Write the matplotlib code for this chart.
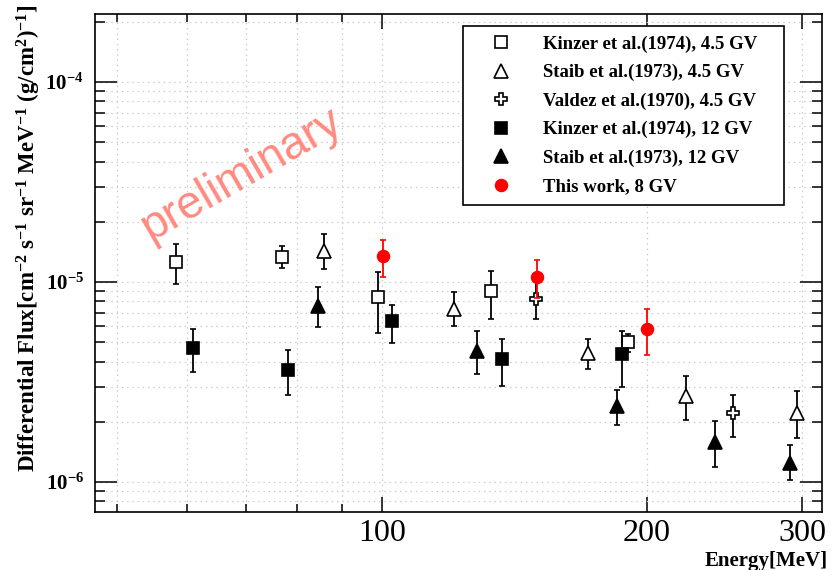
import math
import matplotlib
matplotlib.use("Agg")
import matplotlib.pyplot as plt
from matplotlib.ticker import FixedLocator, NullFormatter, FixedFormatter, LogLocator, FuncFormatter

plt.rcParams['font.family'] = ['Liberation Serif', 'DejaVu Serif']
plt.rcParams['mathtext.fontset'] = 'custom'
plt.rcParams['mathtext.rm'] = 'Liberation Serif:bold'
plt.rcParams['mathtext.bf'] = 'Liberation Serif:bold'
plt.rcParams['mathtext.it'] = 'Liberation Serif:bold'
plt.rcParams['mathtext.default'] = 'bf'

# ---------------- data ----------------
kinzer45_E = [58.3, 77.0, 98.9, 133.0, 190.5]
kinzer45_F = [1.26e-5, 1.34e-5, 8.41e-6, 8.98e-6, 4.99e-6]
kinzer45_hi = [1.55e-5, 1.51e-5, 1.12e-5, 1.14e-5, 5.52e-6]
kinzer45_lo = [9.77e-6, 1.17e-5, 5.54e-6, 6.53e-6, 4.45e-6]

staib45_E = [85.9, 120.7, 171.4, 221.4, 295.7]
staib45_F = [1.43e-5, 7.36e-6, 4.40e-6, 2.69e-6, 2.22e-6]
staib45_hi = [1.73e-5, 8.88e-6, 5.21e-6, 3.39e-6, 2.84e-6]
staib45_lo = [1.16e-5, 6.00e-6, 3.69e-6, 2.03e-6, 1.65e-6]

valdez45_E = [149.7, 250.3]
valdez45_F = [8.25e-6, 2.21e-6]
valdez45_hi = [1.02e-5, 2.72e-6]
valdez45_lo = [6.53e-6, 1.67e-6]

kinzer12_E = [61.0, 78.1, 102.5, 136.9, 187.4]
kinzer12_F = [4.70e-6, 3.64e-6, 6.36e-6, 4.11e-6, 4.35e-6]
kinzer12_hi = [5.82e-6, 4.59e-6, 7.70e-6, 5.21e-6, 5.71e-6]
kinzer12_lo = [3.55e-6, 2.72e-6, 4.95e-6, 3.02e-6, 2.97e-6]

staib12_E = [84.6, 128.3, 185.1, 238.9, 291.0]
staib12_F = [7.62e-6, 4.54e-6, 2.40e-6, 1.58e-6, 1.25e-6]
staib12_hi = [9.44e-6, 5.71e-6, 2.89e-6, 2.02e-6, 1.53e-6]
staib12_lo = [5.98e-6, 3.47e-6, 1.92e-6, 1.19e-6, 1.02e-6]

thiswork_E = [100.2, 150.1, 200.0]
thiswork_F = [1.35e-5, 1.055e-5, 5.82e-6]
thiswork_hi = [1.62e-5, 1.29e-5, 7.30e-6]
thiswork_lo = [1.06e-5, 8.30e-6, 4.32e-6]

labels = ["Kinzer et al.(1974), 4.5 GV", "Staib et al.(1973), 4.5 GV",
          "Valdez et al.(1970), 4.5 GV", "Kinzer et al.(1974), 12 GV",
          "Staib et al.(1973), 12 GV", "This work, 8 GV"]

x_major = [100, 200, 300]
x_major_labels = ["100", "200", "300"]
x_minor = [50, 60, 70, 80, 90]

# ---------------- figure ----------------
fig = plt.figure(figsize=(8.32, 5.70), dpi=100)
ax = fig.add_axes([95/832, 1-511.7/570, 727/832, (511.7-14)/570])
ax.set_xscale('log')
ax.set_yscale('log')

series = [
    (kinzer45_E, kinzer45_F, kinzer45_hi, kinzer45_lo, 's', 'white', 'black'),
    (staib45_E, staib45_F, staib45_hi, staib45_lo, '^', 'white', 'black'),
    (valdez45_E, valdez45_F, valdez45_hi, valdez45_lo, 'P', 'white', 'black'),
    (kinzer12_E, kinzer12_F, kinzer12_hi, kinzer12_lo, 's', 'black', 'black'),
    (staib12_E, staib12_F, staib12_hi, staib12_lo, '^', 'black', 'black'),
    (thiswork_E, thiswork_F, thiswork_hi, thiswork_lo, 'o', 'red', 'red'),
]
handles = []
for i, (E, F, hi, lo, m, fc, ec) in enumerate(series):
    yerr = [[f - l for f, l in zip(F, lo)], [h - f for f, h in zip(F, hi)]]
    ms = 9.5 if m == '^' else 8.5
    eb = ax.errorbar(E, F, yerr=yerr, fmt=m, ms=ms, mfc=fc, mec=ec, mew=1.2,
                     ecolor=ec, elinewidth=1.3, capsize=2.5, capthick=1.3,
                     zorder=3 + i)
    handles.append(eb[0])

ax.set_xlim(47.2, 316)
ax.set_ylim(7.1e-7, 2.19e-4)

ax.xaxis.set_major_locator(FixedLocator(x_major))
ax.xaxis.set_major_formatter(FixedFormatter(x_major_labels))
ax.xaxis.set_minor_locator(FixedLocator(x_minor))
ax.xaxis.set_minor_formatter(NullFormatter())

ax.yaxis.set_major_locator(LogLocator(base=10, numticks=10))
ax.yaxis.set_minor_locator(LogLocator(base=10, subs=[2, 3, 4, 5, 6, 7, 8, 9], numticks=20))
ax.yaxis.set_minor_formatter(NullFormatter())
ax.yaxis.set_major_formatter(FuncFormatter(
    lambda v, p: r'$\mathbf{10^{%d}}$' % round(math.log10(v))))

ax.tick_params(axis='both', which='both', direction='in', top=True, right=True,
               color='black', width=1.1)
ax.tick_params(axis='x', which='major', length=11, labelsize=23, pad=5)
ax.tick_params(axis='x', which='minor', length=5.5)
ax.tick_params(axis='y', which='major', length=16, labelsize=15, pad=8)
ax.tick_params(axis='y', which='minor', length=7)
for sp in ax.spines.values():
    sp.set_linewidth(1.2)

ax.grid(True, which='both', axis='both', color='#cccccc', linestyle=(0, (1.2, 3)),
        linewidth=0.9, zorder=0)
ax.set_axisbelow(True)

ax.set_ylabel(r'Differential Flux[cm$^{-2}$ s$^{-1}$ sr$^{-1}$ MeV$^{-1}$ (g/cm$^{2}$)$^{-1}$]',
              fontsize=16.5, fontweight='bold', loc='top')
ax.yaxis.label.set_va('center')
ax.yaxis.set_label_coords((29 - 95) / 727, (511.7 - 4) / 497.7)

ax.set_xlabel('Energy[MeV]', fontsize=15, fontweight='bold', loc='right')
ax.xaxis.label.set_va('center')
ax.xaxis.set_label_coords((828 - 95) / 727, (511.7 - 561) / 497.7)

fig.text(241/832, 1-175/570, 'preliminary', fontsize=33, color='#ff8a80',
         family=['Liberation Sans', 'DejaVu Sans'], rotation=30,
         ha='center', va='center', rotation_mode='anchor')

leg_x0 = (463 - 95) / 727
leg_y0 = (511.7 - 200) / 497.7
leg_w = (784 - 463) / 727
leg_h = (200 - 26) / 497.7
leg = ax.legend(handles, labels, loc='upper left',
                bbox_to_anchor=(leg_x0, leg_y0, leg_w, leg_h),
                mode='expand', borderaxespad=0, frameon=True, fancybox=False,
                edgecolor='black', framealpha=1, numpoints=1,
                prop={'family': 'Liberation Serif', 'weight': 'bold', 'size': 13.5},
                handlelength=3.0, handletextpad=0.75, labelspacing=0.6, borderpad=0.5)
leg.get_frame().set_linewidth(1.2)
leg.set_zorder(20)

fig.savefig('out.png', dpi=100)
